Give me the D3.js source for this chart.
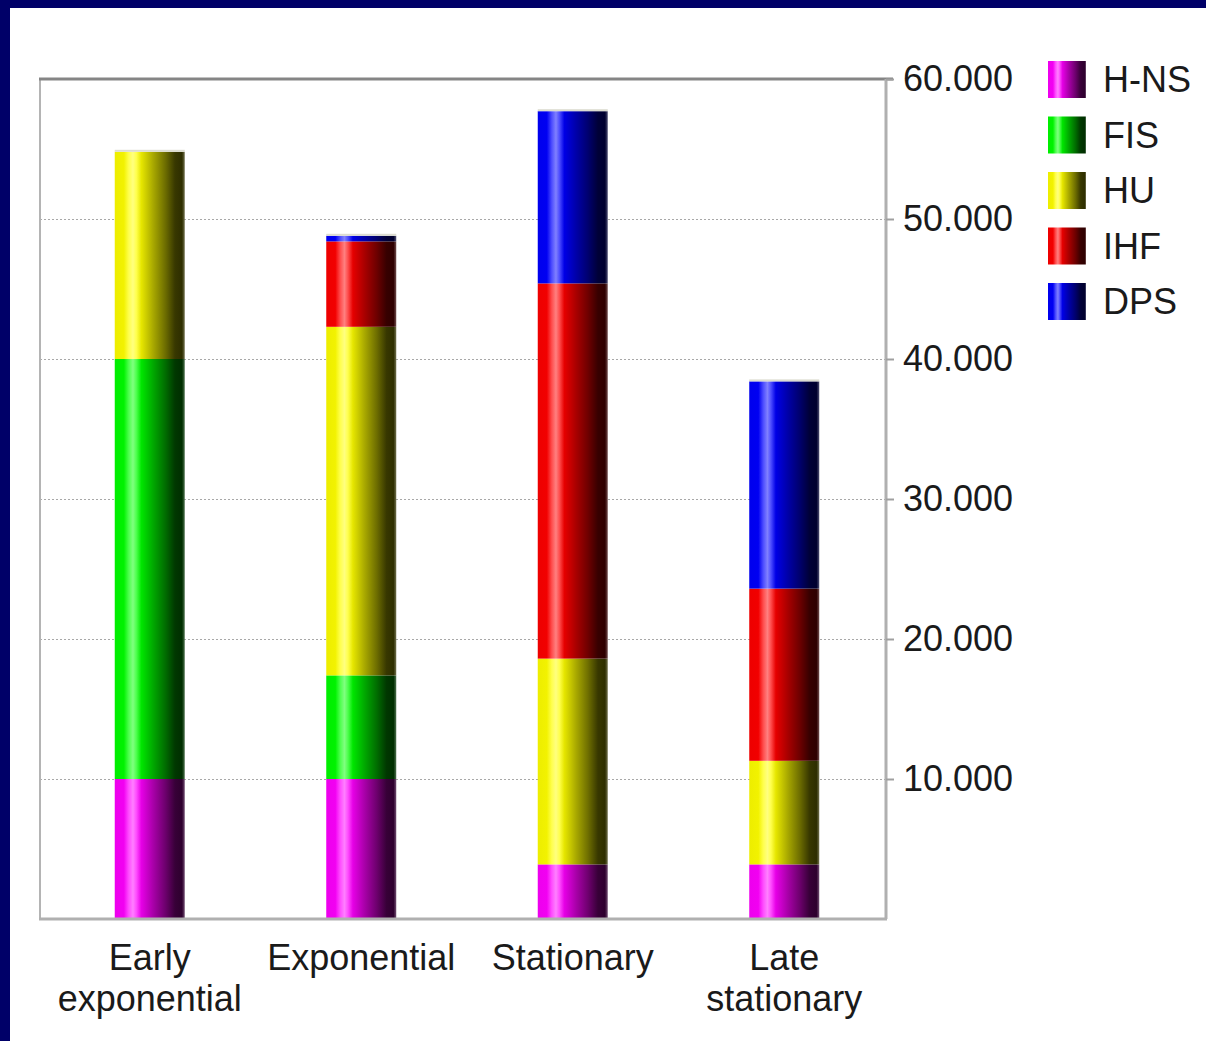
<!DOCTYPE html>
<html>
  <head>
    <style>
    body {
      margin: 0;
      background: #fff;
    }
    text {
      font-family: "Liberation Sans", Arial, sans-serif;
    }
    </style>
  </head>
  <body>
    <script src="https://d3js.org/d3.v7.min.js"></script>
    <script>
    var categories = [["Early", "exponential"], ["Exponential"], ["Stationary"], ["Late", "stationary"]];
    var series = ["H-NS", "FIS", "HU", "IHF", "DPS"];
    var colors = ["#ff00ff", "#00ff00", "#ffff00", "#ff0000", "#0000ff"];

    // values per series, one per category
    var hns = [10000, 10000, 3900, 3900];
    var fis = [30000, 7400, 0, 0];
    var hu  = [14800, 24900, 14700, 7400];
    var ihf = [0, 6100, 26800, 12300];
    var dps = [0, 400, 12300, 14800];

    var yTicks = [10000, 20000, 30000, 40000, 50000, 60000];

    var width = 1206, height = 1041;
    var values = [hns, fis, hu, ihf, dps];

    var rows = categories.map(function(c, i) {
      var r = {key: i};
      series.forEach(function(s, j) { r[s] = values[j][i]; });
      return r;
    });

    var svg = d3.select("body").append("svg")
        .attr("width", width)
        .attr("height", height);

    // navy frame on left and top
    svg.append("rect").attr("x", 0).attr("y", 0).attr("width", width).attr("height", 8).attr("fill", "#000068");
    svg.append("rect").attr("x", 0).attr("y", 0).attr("width", 10).attr("height", height).attr("fill", "#000068");

    var x = d3.scaleBand().domain(d3.range(categories.length)).range([44, 890]);
    var y = d3.scaleLinear().domain([0, 60000]).range([919, 79]);

    var fmt = d3.formatLocale({decimal: ",", thousands: ".", grouping: [3], currency: ["", ""]}).format(",");

    function shade(c, k) {
      var b = d3.rgb(c);
      return d3.rgb(b.r * k, b.g * k, b.b * k);
    }

    // gradients
    var defs = svg.append("defs");
    colors.forEach(function(c, i) {
      var g = defs.append("linearGradient").attr("id", "g" + i)
          .attr("x1", "0%").attr("x2", "100%").attr("y1", "0%").attr("y2", "0%");
      var stops = [
        [0, shade(c, 0.93)],
        [0.13, shade(c, 0.95)],
        [0.2, d3.interpolateRgb(c, "#fff")(0.3)],
        [0.26, d3.interpolateRgb(c, "#fff")(0.5)],
        [0.31, d3.interpolateRgb(c, "#fff")(0.3)],
        [0.38, shade(c, 0.9)],
        [0.55, shade(c, 0.66)],
        [0.72, shade(c, 0.43)],
        [0.86, shade(c, 0.22)],
        [0.96, shade(c, 0.18)],
        [1, d3.interpolateRgb(shade(c, 0.2), "#fff")(0.3)]
      ];
      stops.forEach(function(s) {
        g.append("stop").attr("offset", s[0]).attr("stop-color", s[1]);
      });
    });

    // grid lines
    svg.append("g").selectAll("line").data(yTicks.slice(0, -1)).enter().append("line")
        .attr("x1", 40).attr("x2", 885)
        .attr("y1", function(d) { return Math.round(y(d)) + 0.5; })
        .attr("y2", function(d) { return Math.round(y(d)) + 0.5; })
        .attr("stroke", "#a8a8a8")
        .attr("stroke-dasharray", "2,2");

    // plot box
    svg.append("line").attr("x1", 40).attr("x2", 40).attr("y1", 79).attr("y2", 919)
        .attr("stroke", "#b4b4b4").attr("stroke-width", 2);
    svg.append("line").attr("x1", 39).attr("x2", 893).attr("y1", 79).attr("y2", 79)
        .attr("stroke", "#858585").attr("stroke-width", 3);

    // stacked bars
    var stack = d3.stack().keys(series)(rows);
    var bw = 70;
    svg.append("g").selectAll("g").data(stack).enter().append("g")
        .attr("fill", function(d, i) { return "url(#g" + i + ")"; })
      .selectAll("rect").data(function(d) { return d; }).enter()
      .filter(function(d) { return d[1] - d[0] > 0; })
      .append("rect")
        .attr("x", function(d) { return x(d.data.key) + x.bandwidth() / 2 - bw / 2; })
        .attr("y", function(d) { return y(d[1]); })
        .attr("width", bw)
        .attr("height", function(d) { return y(d[0]) - y(d[1]); });

    // pale cap on each bar top
    svg.append("g").selectAll("rect").data(rows).enter().append("rect")
        .attr("x", function(d) { return x(d.key) + x.bandwidth() / 2 - bw / 2; })
        .attr("y", function(d) { return y(d3.sum(series, function(s) { return d[s]; })) - 2; })
        .attr("width", bw).attr("height", 2)
        .attr("fill", "#dcdcd0");

    // bottom axis line
    svg.append("line").attr("x1", 39).attr("x2", 887).attr("y1", 919).attr("y2", 919)
        .attr("stroke", "#b0b0b0").attr("stroke-width", 3);

    // right y axis
    var yAxis = d3.axisRight(y).tickValues(yTicks).tickSize(8).tickPadding(9).tickFormat(fmt);
    var ag = svg.append("g").attr("transform", "translate(886,0)").call(yAxis);
    ag.select(".domain").attr("stroke", "#b0b0b0").attr("stroke-width", 3).attr("d", "M0,79V919");
    ag.selectAll(".tick line").attr("stroke", "#a0a0a0").attr("stroke-width", 2);
    ag.selectAll(".tick text")
        .attr("fill", "#1a1a1a")
        .style("font-size", "36px")
        .style("font-family", "'Liberation Sans', Arial, sans-serif");

    // category labels
    var cl = svg.append("g").selectAll("text").data(categories).enter().append("text")
        .attr("x", function(d, i) { return x(i) + x.bandwidth() / 2; })
        .attr("y", 970)
        .attr("text-anchor", "middle")
        .attr("fill", "#1a1a1a")
        .style("font-size", "36px");
    cl.selectAll("tspan").data(function(d) { return d; }).enter().append("tspan")
        .attr("x", function() { return d3.select(this.parentNode).attr("x"); })
        .attr("dy", function(d, i) { return i ? 41 : 0; })
        .text(function(d) { return d; });

    // legend
    var lg = svg.append("g").selectAll("g").data(series).enter().append("g")
        .attr("transform", function(d, i) { return "translate(1048," + (61 + i * 55.5) + ")"; });
    lg.append("rect").attr("width", 38).attr("height", 37)
        .attr("fill", function(d, i) { return "url(#g" + i + ")"; });
    lg.append("text").attr("x", 55).attr("y", 31)
        .attr("fill", "#1a1a1a")
        .style("font-size", "36px")
        .text(function(d) { return d; });
    </script>
  </body>
</html>
